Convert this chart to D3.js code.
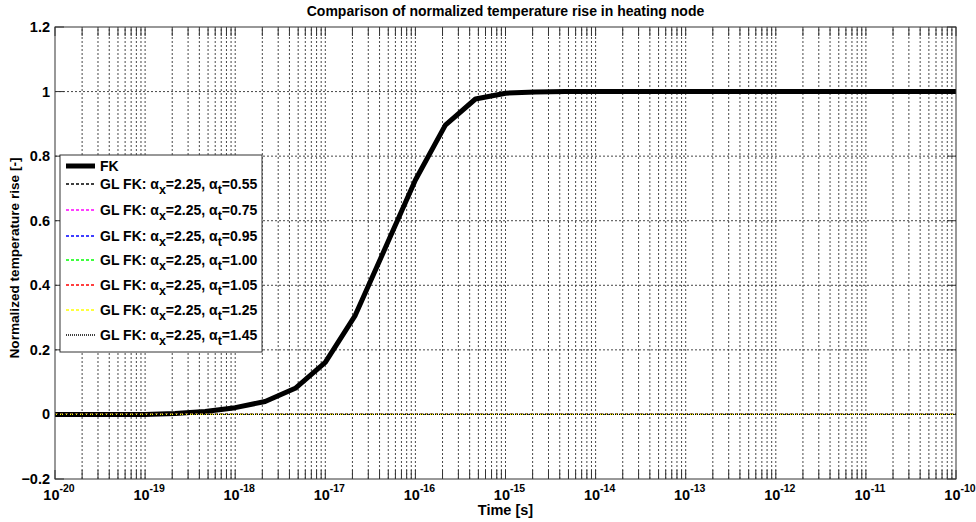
<!DOCTYPE html>
<html>
<head>
<meta charset="utf-8">
<script src="https://cdn.jsdelivr.net/npm/d3@7"></script>
<style>
  body { margin: 0; background: #fff; }
  text { font-family: "Liberation Sans", Arial, sans-serif; font-weight: 700; fill: #000; }
</style>
</head>
<body>
<svg id="chart" width="976" height="522"></svg>
<script>
// sample times [s] (1/3 decade steps) and read-off normalized rise values
const times = [
  1e-20, 2.15e-20, 4.64e-20, 1e-19, 2.15e-19, 4.64e-19, 1e-18, 2.15e-18, 4.64e-18,
  1e-17, 2.15e-17, 4.64e-17, 1e-16, 2.15e-16, 4.64e-16, 1e-15, 2.15e-15, 4.64e-15,
  1e-14, 2.15e-14, 4.64e-14, 1e-13, 2.15e-13, 4.64e-13, 1e-12, 2.15e-12, 4.64e-12,
  1e-11, 2.15e-11, 4.64e-11, 1e-10
];
const fkValues = [
  0, 0, 0, 0, 0.003, 0.009, 0.021, 0.040, 0.081,
  0.161, 0.307, 0.516, 0.726, 0.896, 0.977, 0.995, 0.999, 1,
  1, 1, 1, 1, 1, 1, 1, 1, 1,
  1, 1, 1, 1
];
// GL FK curves all sit on zero over the shown range
const glValues = [
  0, 0, 0, 0, 0, 0, 0, 0, 0, 0, 0, 0, 0, 0, 0, 0,
  0, 0, 0, 0, 0, 0, 0, 0, 0, 0, 0, 0, 0, 0, 0
];
const alphaX = "2.25";
const alphaT = ["0.55", "0.75", "0.95", "1.00", "1.05", "1.25", "1.45"];
const glColors = ["#000000", "#ff00ff", "#0000ff", "#00ff00", "#ff0000", "#ffff00", "#000000"];
const glDashes = ["3,2", "3,2", "3,2", "3,2", "3,2", "3,2", "1,1"];
const yTicks = [-0.2, 0, 0.2, 0.4, 0.6, 0.8, 1, 1.2];
const xExponents = [-20, -19, -18, -17, -16, -15, -14, -13, -12, -11, -10];

const margin = { top: 27, right: 20, bottom: 43, left: 55 };
const width = 976, height = 522;
const svg = d3.select("#chart");

const x = d3.scaleLog().domain([1e-20, 1e-10]).range([margin.left, width - margin.right]);
const y = d3.scaleLinear().domain([-0.2, 1.2]).range([height - margin.bottom, margin.top]);

const plot = svg.append("g");

// grid lines: decades plus 2..9 in each decade
const gridX = [];
xExponents.forEach(e => {
  gridX.push(Math.pow(10, e));
  if (e < -10) for (let m = 2; m <= 9; m++) gridX.push(m * Math.pow(10, e));
});
const grid = plot.append("g").attr("stroke", "#000").attr("stroke-dasharray", "2,2")
  .attr("stroke-width", 0.9).attr("opacity", 0.8);
grid.selectAll("line.vx").data(gridX.slice(1, -1)).join("line")
  .attr("x1", d => x(d)).attr("x2", d => x(d))
  .attr("y1", y(-0.2)).attr("y2", y(1.2));
grid.selectAll("line.hy").data(yTicks.slice(1, -1)).join("line")
  .attr("x1", x(1e-20)).attr("x2", x(1e-10))
  .attr("y1", d => y(d)).attr("y2", d => y(d));

// tick marks inside the box on all sides
const ticks = plot.append("g").attr("stroke", "#333").attr("stroke-width", 1);
gridX.forEach(d => {
  ticks.append("line").attr("x1", x(d)).attr("x2", x(d)).attr("y1", y(-0.2)).attr("y2", y(-0.2) - 9);
  ticks.append("line").attr("x1", x(d)).attr("x2", x(d)).attr("y1", y(1.2)).attr("y2", y(1.2) + 9);
});
yTicks.forEach(d => {
  ticks.append("line").attr("x1", x(1e-20)).attr("x2", x(1e-20) + 9).attr("y1", y(d)).attr("y2", y(d));
  ticks.append("line").attr("x1", x(1e-10)).attr("x2", x(1e-10) - 9).attr("y1", y(d)).attr("y2", y(d));
});

// data lines
const line = d3.line().x((d, i) => x(times[i])).y(d => y(d));
plot.append("path")
  .attr("d", line(fkValues))
  .attr("fill", "none").attr("stroke", "#000").attr("stroke-width", 5)
  .attr("stroke-linejoin", "round");
alphaT.forEach((a, i) => {
  plot.append("path")
    .attr("d", line(glValues))
    .attr("fill", "none").attr("stroke", glColors[i]).attr("stroke-width", 1.3)
    .attr("stroke-dasharray", glDashes[i]);
});

// box
plot.append("rect")
  .attr("x", x.range()[0]).attr("y", y.range()[1])
  .attr("width", x.range()[1] - x.range()[0])
  .attr("height", y.range()[0] - y.range()[1])
  .attr("fill", "none").attr("stroke", "#333").attr("stroke-width", 1);

// y tick labels
const yFmt = d => d === 0 ? "0" : d === 1 ? "1" : d3.format(".1f")(d);
svg.append("g").selectAll("text").data(yTicks).join("text")
  .attr("x", margin.left - 5).attr("y", d => y(d) + 5)
  .attr("text-anchor", "end").attr("font-size", 14.5)
  .text(yFmt);

// x tick labels 10^n
const xl = svg.append("g").selectAll("text").data(xExponents).join("text")
  .attr("x", d => x(Math.pow(10, d)) + 4).attr("y", 500)
  .attr("text-anchor", "middle").attr("font-size", 14.5);
xl.append("tspan").text("10");
xl.append("tspan").attr("dy", -8).attr("font-size", 10.5).text(d => String(d));

// titles
svg.append("text").attr("x", (x.range()[0] + x.range()[1]) / 2).attr("y", 16)
  .attr("text-anchor", "middle").attr("font-size", 14)
  .text("Comparison of normalized temperature rise in heating node");
svg.append("text").attr("x", (x.range()[0] + x.range()[1]) / 2).attr("y", 515)
  .attr("text-anchor", "middle").attr("font-size", 14.5)
  .text("Time [s]");
svg.append("text")
  .attr("transform", `translate(19, 258) rotate(-90)`)
  .attr("text-anchor", "middle").attr("font-size", 13.6)
  .text("Normalized temperature rise [-]");

// legend
const legend = svg.append("g").attr("transform", "translate(60, 155)");
legend.append("rect").attr("width", 202).attr("height", 197)
  .attr("fill", "#fff").attr("stroke", "#333").attr("stroke-width", 1);
const rowY = [11, 29, 55, 81, 105, 130, 155, 180];
legend.append("line").attr("x1", 6).attr("x2", 35).attr("y1", rowY[0]).attr("y2", rowY[0])
  .attr("stroke", "#000").attr("stroke-width", 5);
legend.append("text").attr("x", 40).attr("y", rowY[0] + 5).attr("font-size", 14).text("FK");
alphaT.forEach((a, i) => {
  const ry = rowY[i + 1];
  legend.append("line").attr("x1", 6).attr("x2", 35).attr("y1", ry).attr("y2", ry)
    .attr("stroke", glColors[i]).attr("stroke-width", 1.3).attr("stroke-dasharray", glDashes[i]);
  const t = legend.append("text").attr("x", 40).attr("y", ry + 5).attr("font-size", 14);
  t.append("tspan").text("GL FK: \u03b1");
  t.append("tspan").attr("dy", 5).attr("font-size", 12.5).text("x");
  t.append("tspan").attr("dy", -5).text("=" + alphaX + ", \u03b1");
  t.append("tspan").attr("dy", 5).attr("font-size", 12.5).text("t");
  t.append("tspan").attr("dy", -5).text("=" + a);
});
</script>
</body>
</html>
